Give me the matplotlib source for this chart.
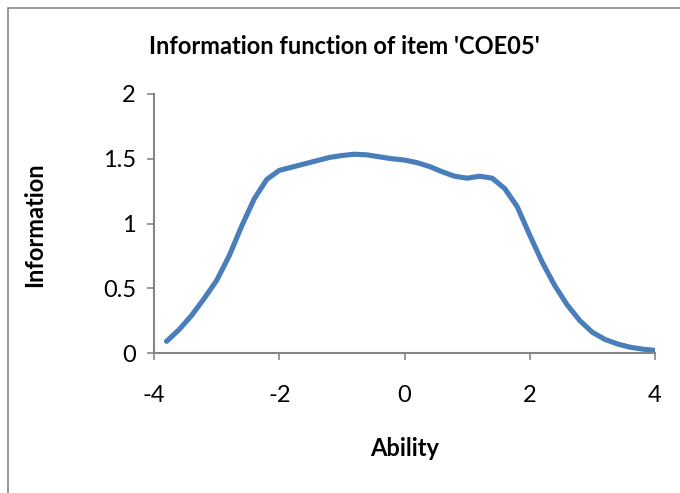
import matplotlib
matplotlib.use('Agg')
import matplotlib.pyplot as plt
from matplotlib.patches import Rectangle

# values
ability = [-3.8, -3.6, -3.4, -3.2, -3.0, -2.8, -2.6, -2.4, -2.2, -2.0,
           -1.8, -1.6, -1.4, -1.2, -1.0, -0.8, -0.6, -0.4, -0.2, 0.0,
           0.2, 0.4, 0.6, 0.8, 1.0, 1.2, 1.4, 1.6, 1.8, 2.0,
           2.2, 2.4, 2.6, 2.8, 3.0, 3.2, 3.4, 3.6, 3.8, 4.0]
information = [0.09, 0.18, 0.29, 0.42, 0.56, 0.75, 0.98, 1.19, 1.34, 1.41,
               1.435, 1.46, 1.485, 1.51, 1.525, 1.535, 1.53, 1.515, 1.50, 1.49,
               1.47, 1.44, 1.40, 1.365, 1.35, 1.365, 1.35, 1.27, 1.13, 0.91,
               0.70, 0.52, 0.37, 0.25, 0.16, 0.105, 0.07, 0.045, 0.03, 0.02]
x_ticks = [-4, -2, 0, 2, 4]
y_ticks = [0, 0.5, 1, 1.5, 2]
y_tick_labels = ['0', '0.5', '1', '1.5', '2']

plt.rcParams['font.family'] = ['Lato', 'DejaVu Sans']
plt.rcParams['axes.unicode_minus'] = False

fig = plt.figure(figsize=(6.8, 4.93), dpi=100)
ax = fig.add_axes([154/680, 1 - 353/493, (655-154)/680, (353-94)/493])

ax.plot(ability, information, color='#4a7ebb', linewidth=3.7,
        solid_capstyle='round', solid_joinstyle='round')

ax.set_xlim(-4, 4)
ax.set_ylim(0, 2)
ax.set_xticks(x_ticks)
ax.set_yticks(y_ticks)
ax.set_yticklabels(y_tick_labels)

for s in ['top', 'right']:
    ax.spines[s].set_visible(False)
for s in ['left', 'bottom']:
    ax.spines[s].set_color('#868686')
    ax.spines[s].set_linewidth(1.5)
ax.tick_params(axis='both', direction='out', length=5, width=1.2,
               color='#868686', labelsize=17)
ax.tick_params(axis='y', pad=8)
ax.tick_params(axis='x', pad=18)

fig.text(344/680, 1 - 47/493, "Information function of item 'COE05'",
         ha='center', va='center', fontsize=17, fontweight='bold')
fig.text(405/680, 1 - 448/493, 'Ability', ha='center', va='center',
         fontsize=17, fontweight='bold')
fig.text(35/680, 1 - 225/493, 'Information', ha='center', va='center',
         rotation=90, fontsize=17, fontweight='bold')

# chart border (cut off at right and bottom in the reference)
fig.patches.append(Rectangle((8/680, -0.1), 1.2, 1 - 8/493 + 0.1,
                             transform=fig.transFigure, fill=False,
                             edgecolor='#868686', linewidth=1.2))

fig.savefig('out.png', dpi=100)
